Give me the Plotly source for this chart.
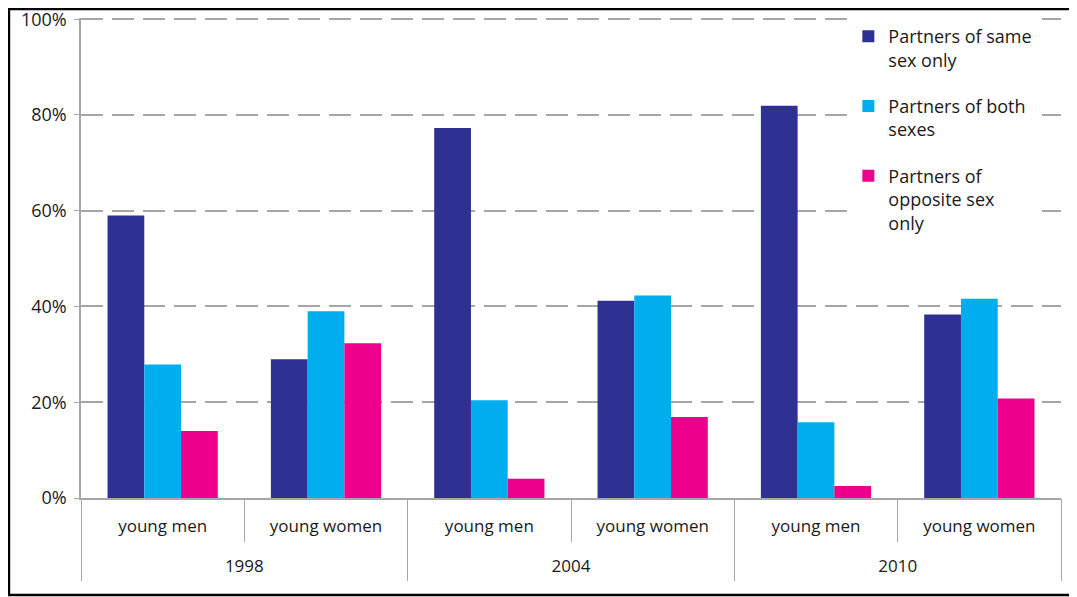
import plotly.graph_objects as go

years = ["1998", "2004", "2010"]
groups = ["young men", "young women"]
series_names = [
    "Partners of same<br>sex only",
    "Partners of both<br>sexes",
    "Partners of<br>opposite sex<br>only",
]
same_sex = [59.0, 29.0, 77.3, 41.2, 81.9, 38.3]
both_sexes = [27.9, 39.0, 20.4, 42.3, 15.8, 41.6]
opposite_sex = [14.0, 32.3, 4.0, 16.9, 2.5, 20.8]
colors = ["#2E3192", "#00AEEF", "#EC008C"]
y_ticks = [0, 20, 40, 60, 80, 100]
y_tick_text = ["0%", "20%", "40%", "60%", "80%", "100%"]

keys = [f"{y} {g}" for y in years for g in groups]
key_labels = [g for y in years for g in groups]

FONT = "Open Sans"
TXT = "#1a1a1a"
AX = "#a6a6a6"

fig = go.Figure()
for i, (name, vals) in enumerate(zip(series_names, [same_sex, both_sexes, opposite_sex])):
    fig.add_trace(go.Bar(
        x=keys, y=vals, name=name,
        marker=dict(color=colors[i], line=dict(width=0)),
        legendgroup=f"g{i}",
    ))
# invisible trace to register the year categories on the outer axis
fig.add_trace(go.Scatter(x=years, y=[None] * len(years), xaxis="x2",
                         showlegend=False, hoverinfo="skip", mode="markers"))

fig.update_layout(
    width=1069, height=589,
    margin=dict(l=73, r=16, t=10, b=99),
    paper_bgcolor="white", plot_bgcolor="white",
    barmode="group", bargap=0.325, bargroupgap=0,
    font=dict(family=FONT, size=18, color=TXT),
    showlegend=True,
    legend=dict(
        x=0.783, y=1.0, xanchor="left", yanchor="top",
        bgcolor="white", borderwidth=0, valign="top",
        font=dict(family=FONT, size=18, color=TXT),
        tracegroupgap=20, itemwidth=30,
    ),
    xaxis=dict(
        type="category", categoryorder="array", categoryarray=keys,
        tickvals=keys, ticktext=key_labels,
        range=[-0.5, len(keys) - 0.5], automargin=False,
        showline=True, linecolor=AX, linewidth=1.5,
        tickson="boundaries", ticks="outside", ticklen=42, tickcolor=AX, tickwidth=1,
        ticklabelstandoff=12,
        showgrid=False, zeroline=False,
        tickfont=dict(family=FONT, size=17, color=TXT),
    ),
    xaxis2=dict(
        type="category", categoryorder="array", categoryarray=years,
        overlaying="x", side="bottom", anchor="y",
        range=[-0.5, len(years) - 0.5], automargin=False,
        showline=False,
        tickson="boundaries", ticks="outside", ticklen=82, tickcolor=AX, tickwidth=1,
        ticklabelstandoff=56,
        showgrid=False, zeroline=False,
        tickfont=dict(family=FONT, size=17, color=TXT),
    ),
    yaxis=dict(
        range=[0, 100.25], tickvals=y_ticks, ticktext=y_tick_text, automargin=False,
        showgrid=True, gridcolor=AX, gridwidth=1.5, griddash="22px,9px",
        showline=True, linecolor=AX, linewidth=1.5,
        ticks="outside", ticklen=5, tickcolor=AX,
        ticklabelstandoff=4, ticklabeloverflow="allow",
        zeroline=False,
        tickfont=dict(family=FONT, size=18, color=TXT),
    ),
    shapes=[dict(
        type="rect", xref="paper", yref="paper",
        x0=-0.0735, x1=1.0143, y0=-0.202, y1=1.01875,
        line=dict(color="black", width=2.5), fillcolor="rgba(0,0,0,0)", layer="above",
    )],
)

fig.write_html("out.html")
